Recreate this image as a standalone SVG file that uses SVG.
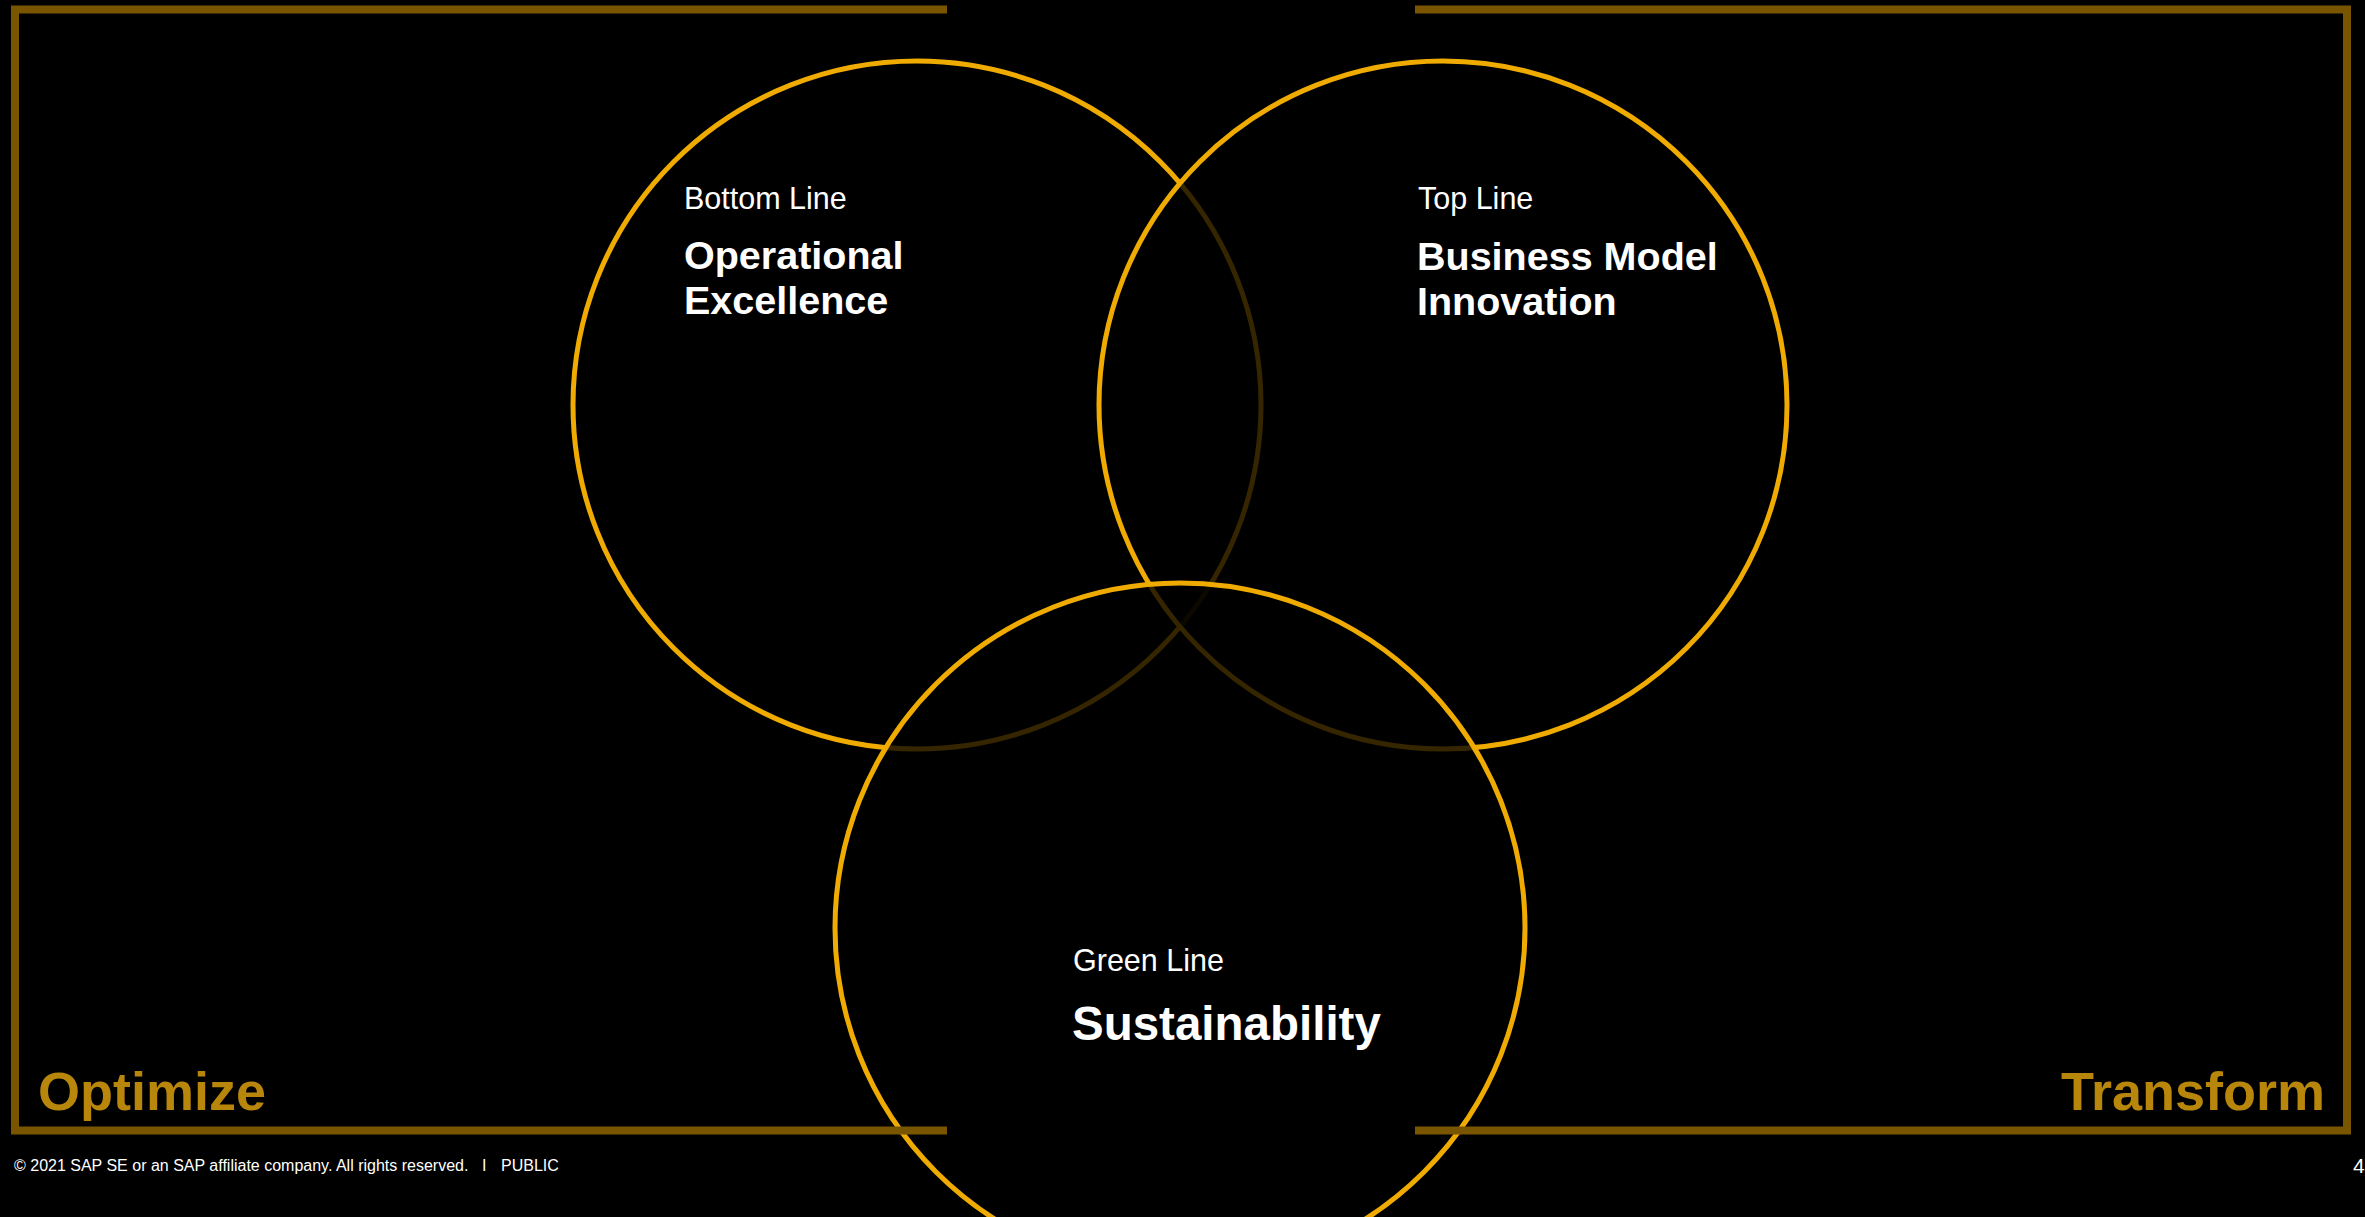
<svg xmlns="http://www.w3.org/2000/svg" width="2365" height="1217" viewBox="0 0 2365 1217">
<style>
.circ{fill:#000;fill-opacity:0.78;stroke:#F0AB00;stroke-width:5}
.frame{fill:none;stroke:#7A5500;stroke-width:8}
.sub{font-family:"Liberation Sans",Arial,sans-serif;font-size:30.5px;fill:#fff}
.ttl{font-family:"Liberation Sans",Arial,sans-serif;font-size:39.5px;font-weight:bold;fill:#fff}
.big{font-family:"Liberation Sans",Arial,sans-serif;font-size:54px;font-weight:bold;fill:#B8860B}
.foot{font-family:"Liberation Sans",Arial,sans-serif;font-size:16px;fill:#fff}
</style>
<rect width="2365" height="1217" fill="#000"/>
<g id="circle-bottom-line">
<circle class="circ" cx="917" cy="405" r="344"/>
</g>
<g id="circle-top-line">
<circle class="circ" cx="1443" cy="405" r="344"/>
</g>
<g id="circle-green-line">
<circle class="circ" cx="1180" cy="928" r="345"/>
</g>
<g id="frames">
<polyline class="frame" points="947,9.5 15,9.5 15,1130.5 947,1130.5"/>
<polyline class="frame" points="1415,9.5 2347,9.5 2347,1130.5 1415,1130.5"/>
</g>
<g id="labels-bottom-line">
<text class="sub" x="684" y="209">Bottom Line</text>
<text class="ttl" x="684" y="269">Operational</text>
<text class="ttl" x="684" y="314">Excellence</text>
</g>
<g id="labels-top-line">
<text class="sub" x="1418" y="209">Top Line</text>
<text class="ttl" x="1417" y="270">Business Model</text>
<text class="ttl" x="1417" y="315">Innovation</text>
</g>
<g id="labels-green-line">
<text class="sub" x="1073" y="971">Green Line</text>
<text class="ttl" x="1072" y="1040" style="font-size:47.5px">Sustainability</text>
</g>
<g id="optimize"><text class="big" x="38" y="1110">Optimize</text></g>
<g id="transform"><text class="big" x="2325" y="1110" text-anchor="end">Transform</text></g>
<g id="footer">
<text class="foot" y="1171"><tspan x="14">© 2021 SAP SE or an SAP affiliate company. All rights reserved.</tspan><tspan x="482">I</tspan><tspan x="501">PUBLIC</tspan></text>
<text class="foot" x="2353" y="1173" style="font-size:21px">4</text>
</g>
</svg>
